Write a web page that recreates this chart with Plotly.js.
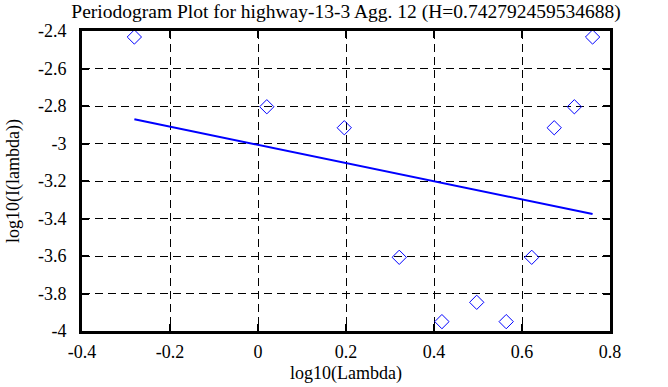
<!DOCTYPE html>
<html>
<head>
<meta charset="utf-8">
<script src="https://cdn.plot.ly/plotly-3.0.1.min.js"></script>
<style>html,body{margin:0;padding:0;background:#fff;}</style>
</head>
<body>
<div id="chart" style="width:668px;height:387px;"></div>
<script>
var logLambda = [-0.2810, 0.0200, 0.1961, 0.3210, 0.4180, 0.4971, 0.5641, 0.6221, 0.6732, 0.7190, 0.7604];
var logI = [-2.432, -2.804, -2.916, -3.607, -3.950, -3.847, -3.950, -3.607, -2.916, -2.804, -2.432];
var fitX = [-0.2810, 0.7604];
var fitY = [-2.871, -3.376];
var xTicks = [-0.4, -0.2, 0, 0.2, 0.4, 0.6, 0.8];
var xTickText = ['-0.4', '-0.2', '0', '0.2', '0.4', '0.6', '0.8'];
var yTicks = [-4, -3.8, -3.6, -3.4, -3.2, -3, -2.8, -2.6, -2.4];
var yTickText = ['-4', '-3.8', '-3.6', '-3.4', '-3.2', '-3', '-2.8', '-2.6', '-2.4'];
var titleText = 'Periodogram Plot for highway-13-3 Agg. 12 (H=0.742792459534688)';

var serif = 'Liberation Serif';
var traces = [
  {x: logLambda, y: logI, type: 'scatter', mode: 'markers',
   marker: {symbol: 'diamond-open', size: 11, color: '#0000ff', line: {width: 1, color: '#0000ff'}},
   hoverinfo: 'none'},
  {x: fitX, y: fitY, type: 'scatter', mode: 'lines',
   line: {color: '#0000ff', width: 2}, hoverinfo: 'none'}
];
var axisCommon = {
  showline: true, linecolor: '#000', linewidth: 3, mirror: 'ticks',
  ticks: 'inside', ticklen: 7, tickwidth: 2, tickcolor: '#000',
  showgrid: true, gridcolor: '#000', gridwidth: 1, griddash: '8px,5px',
  zeroline: false, tickfont: {family: serif, size: 18, color: '#000'}
};
var layout = {
  width: 668, height: 387,
  margin: {l: 82, r: 58, t: 31, b: 56},
  paper_bgcolor: '#fff', plot_bgcolor: '#fff',
  showlegend: false,
  font: {family: serif, color: '#000'},
  title: {text: titleText, font: {family: serif, size: 19.5, color: '#000'},
          x: 0.518, xanchor: 'center', y: 0.971, yanchor: 'middle'},
  xaxis: Object.assign({}, axisCommon, {
    range: [-0.4, 0.8], tickmode: 'array', tickvals: xTicks, ticktext: xTickText,
    ticklabelstandoff: 2,
    title: {text: 'log10(Lambda)', font: {family: serif, size: 18, color: '#000'}, standoff: 6}
  }),
  yaxis: Object.assign({}, axisCommon, {
    range: [-4, -2.4], tickmode: 'array', tickvals: yTicks, ticktext: yTickText,
    ticklabelstandoff: 9,
    title: {text: 'log10(I(lambda))', font: {family: serif, size: 18, color: '#000'}, standoff: 14}
  })
};
Plotly.newPlot('chart', traces, layout, {displayModeBar: false, staticPlot: true});
</script>
</body>
</html>
